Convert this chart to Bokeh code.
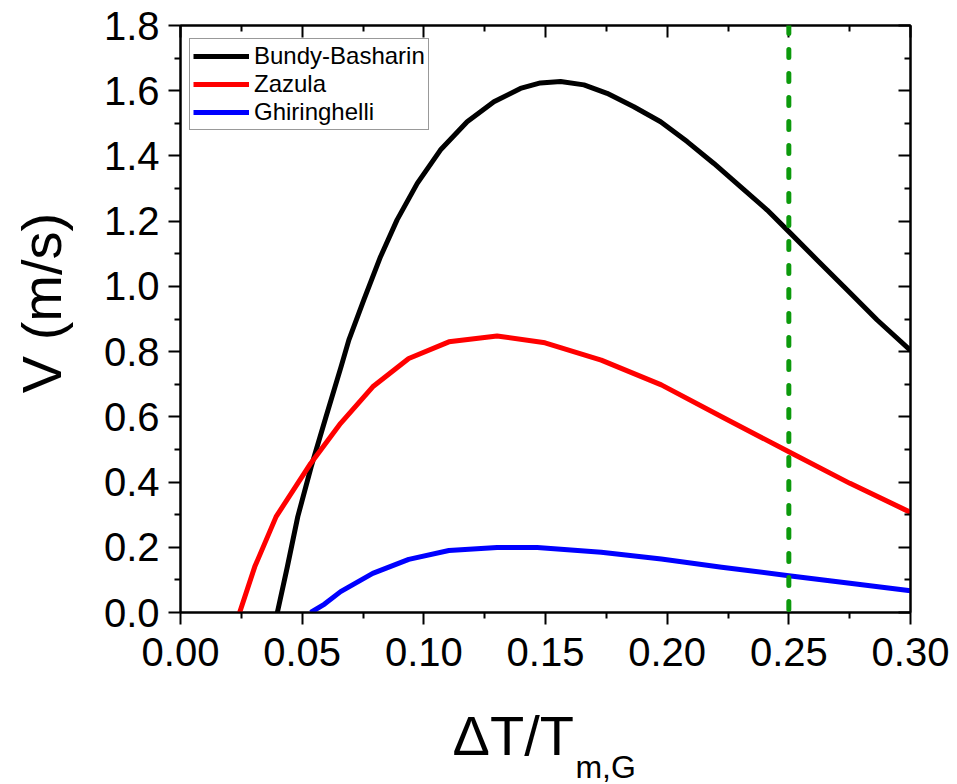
import math
from bokeh.plotting import figure
from bokeh.layouts import row, column
from bokeh.models import (Range1d, LinearAxis, FixedTicker, NumeralTickFormatter,
                          CustomJSTickFormatter, Legend, LegendItem, Span)
from bokeh.core.properties import value
from bokeh.embed import file_html
from bokeh.resources import INLINE

FONT = "Liberation Sans"

# ---- data ----
bb_x = [0.0398, 0.0439, 0.0482, 0.0537, 0.0598, 0.0660, 0.0692, 0.0753, 0.0822, 0.0890,
        0.0973, 0.1068, 0.1178, 0.1288, 0.1397, 0.1479, 0.1562, 0.1658, 0.1753, 0.1863,
        0.1973, 0.2082, 0.2192, 0.2301, 0.2411, 0.2500, 0.2616, 0.2740, 0.2863, 0.3000]
bb_y = [0.000, 0.140, 0.294, 0.447, 0.600, 0.754, 0.836, 0.958, 1.091, 1.204,
        1.316, 1.418, 1.505, 1.566, 1.607, 1.624, 1.628, 1.618, 1.592, 1.551,
        1.505, 1.444, 1.377, 1.306, 1.234, 1.168, 1.081, 0.989, 0.897, 0.804]

za_x = [0.0243, 0.0305, 0.0393, 0.0535, 0.0658, 0.0790, 0.0938, 0.1103, 0.1301, 0.1498,
        0.1729, 0.1976, 0.2224, 0.2500, 0.2751, 0.3000]
za_y = [0.000, 0.140, 0.294, 0.457, 0.580, 0.692, 0.779, 0.830, 0.848, 0.827,
        0.774, 0.698, 0.600, 0.493, 0.396, 0.307]

gh_x = [0.0535, 0.0592, 0.0658, 0.0790, 0.0938, 0.1103, 0.1301, 0.1466, 0.1729, 0.1976,
        0.2224, 0.2500, 0.2751, 0.3000]
gh_y = [0.000, 0.026, 0.064, 0.120, 0.163, 0.190, 0.199, 0.199, 0.185, 0.164,
        0.139, 0.113, 0.090, 0.067]

series_names = ["Bundy-Basharin", "Zazula", "Ghiringhelli"]
series_colors = ["#000000", "#ff0000", "#0000ff"]

ref_x = 0.25  # green dashed reference

x_ticks = [0.00, 0.05, 0.10, 0.15, 0.20, 0.25, 0.30]
x_minor = [0.025, 0.075, 0.125, 0.175, 0.225, 0.275]
y_ticks = [0.0, 0.2, 0.4, 0.6, 0.8, 1.0, 1.2, 1.4, 1.6, 1.8]
y_minor = [0.1, 0.3, 0.5, 0.7, 0.9, 1.1, 1.3, 1.5, 1.7]

x_title_main = "\u0394T/T"
x_title_sub = "m,G"
y_title = "V (m/s)"

# ---- main figure ----
p = figure(width=877, height=690, output_backend="svg", toolbar_location=None,
           title=None,
           x_range=Range1d(0, 0.3), y_range=Range1d(0, 1.8),
           min_border_left=100, min_border_right=47, min_border_top=25,
           min_border_bottom=78)
p.grid.visible = False
p.outline_line_color = "black"
p.outline_line_width = 2

xa = p.xaxis[0]
xa.ticker = FixedTicker(ticks=x_ticks, minor_ticks=x_minor)
xa.formatter = NumeralTickFormatter(format="0.00")
ya = p.yaxis[0]
ya.ticker = FixedTicker(ticks=y_ticks, minor_ticks=y_minor)
ya.formatter = NumeralTickFormatter(format="0.0")
for ax in (xa, ya):
    ax.axis_line_width = 2
    ax.major_tick_line_width = 2
    ax.minor_tick_line_width = 2
    ax.major_tick_out = 12
    ax.major_tick_in = 0
    ax.minor_tick_out = 6
    ax.minor_tick_in = 0
    ax.major_label_text_font = FONT
    ax.major_label_text_font_size = "40px"
    ax.major_label_text_color = "black"
xa.major_label_standoff = 13
ya.major_label_standoff = 9

top = LinearAxis(ticker=FixedTicker(ticks=x_ticks, minor_ticks=x_minor),
                 formatter=CustomJSTickFormatter(code="return ''"))
right = LinearAxis(ticker=FixedTicker(ticks=y_ticks, minor_ticks=y_minor),
                   formatter=CustomJSTickFormatter(code="return ''"))
for ax in (top, right):
    ax.axis_line_width = 2
    ax.major_tick_line_width = 2
    ax.minor_tick_line_width = 2
    ax.major_tick_in = 12
    ax.major_tick_out = 0
    ax.minor_tick_in = 6
    ax.minor_tick_out = 0
    ax.major_label_standoff = 0
    ax.major_label_text_font_size = "2px"
p.add_layout(top, "above")
p.add_layout(right, "right")

p.add_layout(Span(location=ref_x, dimension="height", line_color="#0c9a0c",
                  line_width=5, line_dash="8 16", line_cap="round"))

r1 = p.line(bb_x, bb_y, line_color=series_colors[0], line_width=5, line_join="round")
r2 = p.line(za_x, za_y, line_color=series_colors[1], line_width=5, line_join="round")
r3 = p.line(gh_x, gh_y, line_color=series_colors[2], line_width=5, line_join="round")

legend = Legend(items=[LegendItem(label=series_names[0], renderers=[r1]),
                       LegendItem(label=series_names[1], renderers=[r2]),
                       LegendItem(label=series_names[2], renderers=[r3])],
                location=(9, 482))
legend.label_text_font = FONT
legend.label_text_font_size = "24px"
legend.label_text_color = "black"
legend.glyph_width = 56
legend.glyph_height = 28
legend.label_height = 28
legend.label_standoff = 5
legend.spacing = 0
legend.padding = 3
legend.margin = 0
legend.border_line_color = "#333333"
legend.border_line_width = 1
legend.background_fill_color = "white"
legend.background_fill_alpha = 1
p.add_layout(legend)

# ---- y-axis title strip (left) ----
fl = figure(width=80, height=690, output_backend="svg", toolbar_location=None,
            title=None,
            x_range=Range1d(0, 80), y_range=p.y_range,
            x_axis_location=None, y_axis_location=None,
            min_border_left=0, min_border_right=0, min_border_top=25,
            min_border_bottom=78)
fl.outline_line_color = None
fl.grid.visible = False
fl.text(x=[41], y=[0.949], text=[y_title], angle=math.pi / 2,
        text_font=value(FONT), text_font_size=value("56px"), text_color="black",
        text_align="center", text_baseline="middle")

# ---- x-axis title strip (bottom) ----
fb = figure(width=877, height=94, output_backend="svg", toolbar_location=None,
            title=None,
            x_range=p.x_range, y_range=Range1d(0, 94),
            x_axis_location=None, y_axis_location=None,
            min_border_left=100, min_border_right=47, min_border_top=0,
            min_border_bottom=0)
fb.outline_line_color = None
fb.grid.visible = False
fb.text(x=[0.1118], y=[49.5], text=[x_title_main], text_font=value(FONT),
        text_font_size=value("56px"), text_color="black",
        text_align="left", text_baseline="middle")
fb.text(x=[0.1623], y=[18], text=[x_title_sub], text_font=value(FONT),
        text_font_size=value("32px"), text_color="black",
        text_align="left", text_baseline="middle")

layout = row(fl, column(p, fb, spacing=0), spacing=0)
open("out.html", "w").write(file_html(layout, INLINE))
